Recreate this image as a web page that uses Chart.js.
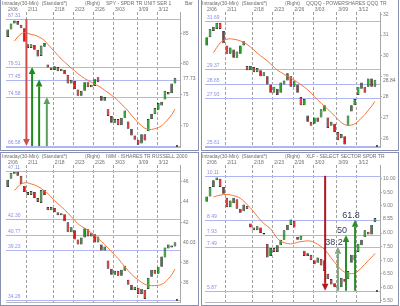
<!DOCTYPE html>
<html><head><meta charset="utf-8">
<script src="https://cdn.jsdelivr.net/npm/chart.js@4/dist/chart.umd.min.js"></script>
<style>
html,body{margin:0;padding:0;background:#fff;}
#wrap{position:relative;width:400px;height:306px;overflow:hidden;background:#fff;}
#wrap canvas{position:absolute;}
</style></head><body>
<div id="wrap">
<canvas id="c0" width="200" height="151" style="left:0;top:0"></canvas>
<canvas id="c1" width="200" height="151" style="left:200px;top:0"></canvas>
<canvas id="c2" width="200" height="154" style="left:0;top:152px"></canvas>
<canvas id="c3" width="200" height="154" style="left:200px;top:152px"></canvas>
</div>
<script>
// ---------- shared axis data ----------
const bars = Array.from({length: 52}, (_, i) => i);
const dateLabels = ['2/06','2/11','2/18','2/23','2/26','3/03','3/09','3/12'];
const dateBars = [0, 6, 14, 20, 26, 32, 39, 45];
const titleParts = ['Intraday(30-Min)', '(Standard*)', '(Right)'];

// ---------- SPY ----------
const spyTitle = 'SPY - SPDR TR UNIT SER 1';
const spyOpen  = [84.4,85.6,86.6,87.0,86.4,85.8,83.2,82.6,83.1,82.3,81.3,82.8,79.9,79.4,79.0,79.5,78.8,79.0,78.2,76.8,77.2,75.8,74.8,75.6,77.0,76.2,76.4,77.8,74.8,74.0,72.6,71.5,70.4,71.0,70.0,71.2,70.6,69.4,68.3,67.6,67.0,68.5,69.0,71.0,71.8,72.5,73.2,74.2,75.4,75.2,76.8,null];
const spyClose = [85.6,86.6,87.1,86.4,85.8,83.6,82.6,83.2,82.3,81.2,83.0,83.4,79.4,79.0,79.6,78.8,79.2,78.3,76.8,77.4,75.9,74.8,75.6,77.0,76.2,76.6,77.5,77.0,74.0,74.6,71.5,70.4,71.0,70.0,71.2,72.4,69.4,68.3,67.6,66.8,68.5,67.5,71.0,71.8,72.8,73.6,73.8,75.6,75.0,76.8,77.73,null];
const spyMA    = [null,null,83.7,84.4,84.9,85.1,85.0,84.8,84.7,84.5,84.2,83.8,83.2,82.6,82.0,81.4,80.8,80.3,79.8,79.3,78.9,78.4,78.0,77.6,77.3,77.0,76.7,76.4,76.1,75.7,75.3,74.9,74.5,74.0,73.4,72.9,72.3,71.6,71.0,70.4,69.9,69.5,69.3,69.3,69.4,69.6,69.9,70.4,71.0,71.7,72.6,null];
const spyLevels = [87.31, 79.51, 77.45, 74.58, 66.58];
const spyRange = [66.43, 88.47];
const spyTicks = [70, 75, 80, 85];
const spyArrowAt = [5.6, 7.3, 9.4, 11.7];
const spyArrowFrom = [87.31, 66.58, 66.58, 66.58];
const spyArrowTo = [66.58, 79.51, 77.45, 74.58];
const spyArrowColor = ['#d24c4c', '#1f8a1f', '#1f8a1f', '#5c9e5c'];

// ---------- QQQQ ----------
const qqqTitle = 'QQQQ - POWERSHARES QQQ TR';
const qqqOpen  = [30.5,30.9,31.2,31.3,31.6,31.2,30.5,30.1,30.3,29.9,30.1,30.5,29.5,29.3,29.45,29.2,29.3,29.0,29.0,28.6,28.2,28.4,28.2,28.6,28.8,29.0,28.5,28.6,28.0,27.6,27.1,26.8,26.7,27.0,27.0,27.3,27.0,26.6,26.7,26.3,26.0,26.1,26.6,27.3,27.6,28.1,28.4,28.5,28.5,28.9,28.5,null];
const qqqClose = [30.9,31.3,31.4,31.6,31.3,30.6,30.1,30.4,29.9,30.2,30.5,30.7,29.3,29.5,29.2,29.4,29.0,29.2,28.6,28.2,28.5,28.1,28.7,28.8,29.15,28.5,28.8,28.2,27.6,27.9,26.8,26.6,27.0,26.8,27.4,27.6,26.5,26.8,26.3,25.9,26.2,25.7,27.1,27.6,27.9,28.5,28.7,28.2,28.9,28.5,28.84,null];
const qqqMA    = [null,null,30.15,30.4,30.62,30.75,30.8,30.82,30.8,30.77,30.72,30.65,30.55,30.42,30.28,30.13,30.0,29.88,29.75,29.6,29.45,29.3,29.2,29.1,29.0,28.92,28.82,28.7,28.6,28.48,28.35,28.2,28.02,27.85,27.7,27.55,27.4,27.25,27.08,26.92,26.76,26.66,26.62,26.64,26.7,26.82,26.98,27.15,27.35,27.55,27.78,null];
const qqqLevels = [31.69, 29.37, 28.65, 27.93, 25.61];
const qqqRange = [25.575, 32.12];
const qqqTicks = [26, 27, 28, 29, 30, 31, 32];

// ---------- IWM ----------
const iwmTitle = 'IWM - ISHARES TR RUSSELL 2000';
const iwmOpen  = [45.5,46.3,46.8,47.0,46.6,45.6,45.0,44.7,45.0,44.4,43.9,45.2,43.5,43.2,43.4,43.0,42.7,42.8,42.0,41.0,41.2,40.3,39.8,40.5,41.3,40.6,40.8,40.0,39.8,39.2,38.2,37.4,36.8,37.2,36.7,37.2,36.3,35.8,35.3,35.5,34.9,35.3,35.4,36.6,37.3,36.9,37.6,38.5,39.4,39.7,39.6,null];
const iwmClose = [46.2,46.9,47.0,46.6,45.8,45.0,44.7,45.1,44.4,44.0,45.2,44.7,43.2,43.5,43.0,42.7,42.9,42.1,41.0,41.5,40.3,39.8,40.5,41.4,40.6,40.9,40.0,40.6,39.2,39.6,37.4,36.8,37.2,36.7,37.3,37.7,35.8,35.3,35.6,34.9,35.4,34.4,36.5,37.3,36.9,37.6,38.6,39.5,39.8,39.5,40.03,null];
const iwmMA    = [null,null,45.15,45.5,45.8,45.9,45.9,45.8,45.7,45.55,45.35,45.1,44.85,44.5,44.15,43.85,43.55,43.25,42.9,42.55,42.2,41.85,41.6,41.4,41.2,40.95,40.7,40.4,40.1,39.8,39.45,39.1,38.75,38.4,38.0,37.6,37.2,36.85,36.55,36.3,36.05,35.85,35.75,35.72,35.72,35.75,35.85,36.05,36.4,36.8,37.35,null];
const iwmLevels = [47.11, 42.30, 40.77, 39.23, 34.26];
const iwmRange = [34.10, 47.67];
const iwmTicks = [36, 38, 42, 44, 46];

// ---------- XLF ----------
const xlfTitle = 'XLF - SELECT SECTOR SPDR TR';
const xlfOpen  = [9.15,9.35,9.7,9.95,10.0,9.7,9.3,8.95,9.1,9.25,8.9,8.8,9.0,8.35,8.2,8.1,8.2,8.0,7.6,7.15,7.45,7.3,7.55,7.75,8.1,8.3,8.45,7.85,7.75,7.35,7.15,7.2,7.0,6.9,7.05,7.0,6.5,6.3,6.15,6.0,6.0,6.3,6.3,6.9,7.2,7.3,7.55,7.85,8.05,7.95,8.4,null];
const xlfClose = [9.35,9.7,9.95,10.05,9.7,9.45,8.95,9.2,9.3,8.9,8.75,9.05,8.88,8.2,8.1,8.25,8.0,7.95,7.1,7.45,7.3,7.55,7.75,8.1,8.3,8.5,8.2,7.75,7.9,7.15,7.25,7.0,6.85,7.1,6.8,6.6,6.3,6.1,6.0,5.9,6.35,6.2,6.6,7.2,7.0,7.6,7.75,8.1,7.95,8.3,8.55,null];
const xlfMA    = [null,null,9.33,9.37,9.4,9.42,9.42,9.41,9.38,9.34,9.28,9.18,9.05,8.93,8.78,8.62,8.47,8.35,8.25,8.15,7.98,7.8,7.7,7.65,7.61,7.6,7.62,7.66,7.68,7.7,7.71,7.7,7.65,7.58,7.5,7.4,7.25,7.08,6.92,6.78,6.64,6.56,6.52,6.5,6.52,6.6,6.72,6.85,6.98,7.1,7.25,null];
const xlfLevels = [10.11, 8.49, 7.93, 7.49, 5.87];
const xlfRange = [5.455, 10.51];
const xlfTicks = [5.5, 6, 6.5, 7, 7.5, 8, 9, 9.5, 10];
const xlfArrowAt = [35.2, 39.0, 41.4, 44.1];
const xlfArrowFrom = [10.11, 5.87, 5.87, 5.87];
const xlfArrowTo = [5.87, 7.49, 7.93, 8.49];
const xlfArrowColor = ['#b3161c', '#7fa67f', '#2a8c2a', '#2a8c2a'];
const xlfFibLabels = ['', '38.2', '50', '61.8'];

// ---------- drawing ----------
const FONT = "'Liberation Sans', Arial, sans-serif";
const GREEN = '#1d9b1d', RED = '#e01818';

function seg(ctx, x1, y1, x2, y2){ ctx.beginPath(); ctx.moveTo(x1,y1); ctx.lineTo(x2,y2); ctx.stroke(); }

function arrow(ctx, x, y1, y2, color){
  const dir = y2 > y1 ? 1 : -1, head = 7, hw = 3.3;
  ctx.strokeStyle = color; ctx.fillStyle = color; ctx.lineWidth = 2;
  seg(ctx, x, y1, x, y2 - dir*head);
  ctx.beginPath(); ctx.moveTo(x, y2); ctx.lineTo(x - hw, y2 - dir*head); ctx.lineTo(x + hw, y2 - dir*head); ctx.closePath(); ctx.fill();
}

const deco = {
  id: 'deco',
  beforeDatasetsDraw(chart, args, o){
    const {ctx, chartArea: a, scales: {x, y}} = chart;
    ctx.save();
    ctx.lineWidth = 1; ctx.strokeStyle = '#a0a0a0'; ctx.setLineDash([3, 2]);
    dateBars.forEach(b => { if (b === 0) return; const px = Math.round(x.getPixelForValue(b - 0.5)) + 0.5; seg(ctx, px, a.top, px, a.bottom); });
    ctx.setLineDash([]);
    ctx.strokeStyle = '#b0b6f2';
    o.levels.forEach(v => { const py = Math.round(y.getPixelForValue(v)) + 0.5; seg(ctx, a.left, py, a.right, py); });
    ctx.fillStyle = '#8a90dc'; ctx.font = '5px ' + FONT; ctx.textBaseline = 'alphabetic'; ctx.textAlign = 'left';
    o.levels.forEach(v => { const py = y.getPixelForValue(v); ctx.fillText(v.toFixed(2), a.left + 2, py - 2); });
    ctx.strokeStyle = '#b8b8b8';
    seg(ctx, a.left, a.bottom + 0.5, a.right, a.bottom + 0.5);
    ctx.restore();
  },
  afterDatasetsDraw(chart, args, o){
    const {ctx, chartArea: a, scales: {x, y}} = chart;
    ctx.save();
    (o.arrowAt || []).forEach((b, i) => {
      const px = x.getPixelForValue(b), y1 = y.getPixelForValue(o.arrowFrom[i]), y2 = y.getPixelForValue(o.arrowTo[i]);
      arrow(ctx, px, y1, y2, o.arrowColor[i]);
      const lab = (o.fib || [])[i];
      if (lab){ ctx.fillStyle = '#34445e'; ctx.font = '9px ' + FONT; ctx.textAlign = 'center'; ctx.textBaseline = 'alphabetic'; ctx.fillText(lab, px - 4, y2 - 2); }
    });
    ctx.fillStyle = '#5a5a2a';
    ctx.fillRect(a.right - 4, Math.round(y.getPixelForValue(o.levels[o.levels.length - 1])) - 1, 2, 2);
    ctx.restore();
  },
  afterDraw(chart, args, o){
    const {ctx, chartArea: a, scales: {x, y}, height} = chart;
    ctx.save();
    // title, laid out left to right
    ctx.fillStyle = '#6e6e6e'; ctx.font = '5px ' + FONT; ctx.textAlign = 'left'; ctx.textBaseline = 'alphabetic';
    const minX = [2, 35, 85, 106], gaps = [0, 3, 12, 6];
    let cx = 0;
    titleParts.concat([o.title]).forEach((t, i) => {
      const px = Math.max(minX[i], cx + gaps[i]);
      ctx.fillText(t, px, o.titleY);
      cx = px + ctx.measureText(t).width;
    });
    if (o.extra) ctx.fillText(o.extra, 185, o.titleY);
    dateLabels.forEach((d, i) => { const px = x.getPixelForValue(dateBars[i] - 0.5); ctx.fillText(d, px + 2, o.dateY); });
    // current value label
    const last = o.current, py = y.getPixelForValue(last);
    const txt = last.toFixed(2), w = ctx.measureText(txt).width;
    ctx.fillStyle = '#fff'; ctx.fillRect(a.right + 2, py - 3, w + 2, 6);
    ctx.fillStyle = '#6e6e6e'; ctx.textBaseline = 'middle'; ctx.fillText(txt, a.right + 3, py + 0.5);
    // panel border
    ctx.strokeStyle = '#8890b4'; ctx.lineWidth = 1;
    const L = o.bl, R = o.br;
    seg(ctx, L, 0, L, height); seg(ctx, R, 0, R, height);
    if (o.top) seg(ctx, L, 0.5, R, 0.5);
    seg(ctx, L, height - 0.5, R, height - 0.5);
    ctx.restore();
  }
};

function panel(id, p){
  const datasets = [
    { type: 'line', data: p.ma, borderColor: '#f2773a', borderWidth: 1, pointRadius: 0, tension: 0.35, order: 1 },
    { type: 'bar', data: p.open.map((v, i) => v == null ? null : [v, p.close[i]]),
      backgroundColor: p.open.map((v, i) => p.close[i] >= v ? GREEN : RED),
      borderColor: '#141414', borderWidth: 0.7, borderSkipped: false,
      barPercentage: 0.8, categoryPercentage: 1, order: 2 }
  ];
  const lastClose = p.close.filter(v => v != null).slice(-1)[0];
  return new Chart(document.getElementById(id), {
    data: { labels: bars, datasets },
    options: {
      responsive: false, animation: false, events: [],
      layout: { padding: p.pad },
      plugins: { legend: { display: false }, tooltip: { enabled: false },
        deco: { levels: p.levels, arrowAt: p.arrowAt, arrowFrom: p.arrowFrom, arrowTo: p.arrowTo, arrowColor: p.arrowColor,
                fib: p.fib, title: p.title, extra: p.extra, titleY: p.titleY, dateY: p.dateY, current: lastClose,
                bl: p.bl, br: p.br, top: p.top } },
      scales: {
        x: { display: false, offset: true },
        y: { position: 'right', min: p.range[0], max: p.range[1],
             afterFit(s){ s.width = 20; },
             afterBuildTicks(s){ s.ticks = p.ticks.map(v => ({ value: v })); },
             ticks: { font: { family: FONT, size: 5 }, color: '#7a7a7a', padding: 1,
                      callback: v => p.dec ? Number(v).toFixed(2) : String(v) },
             grid: { drawOnChartArea: false, tickLength: 2, color: '#a8a8a8' },
             border: { color: '#a8a8a8' } }
      }
    },
    plugins: [deco]
  });
}

panel('c0', { open: spyOpen, close: spyClose, ma: spyMA, levels: spyLevels, range: spyRange, ticks: spyTicks,
  arrowAt: spyArrowAt, arrowFrom: spyArrowFrom, arrowTo: spyArrowTo, arrowColor: spyArrowColor,
  title: spyTitle, extra: 'Bar', titleY: 5, dateY: 10.5, pad: { left: 6, right: 0, top: 12, bottom: 3 }, bl: 0.5, br: 198.5, top: false });
panel('c1', { open: qqqOpen, close: qqqClose, ma: qqqMA, levels: qqqLevels, range: qqqRange, ticks: qqqTicks,
  title: qqqTitle, titleY: 5, dateY: 10.5, pad: { left: 5, right: 0, top: 12, bottom: 3 }, bl: 1.5, br: 198.5, top: false });
panel('c2', { open: iwmOpen, close: iwmClose, ma: iwmMA, levels: iwmLevels, range: iwmRange, ticks: iwmTicks,
  title: iwmTitle, titleY: 6, dateY: 12, pad: { left: 6, right: 0, top: 13, bottom: 2 }, bl: 0.5, br: 198.5, top: true });
panel('c3', { open: xlfOpen, close: xlfClose, ma: xlfMA, levels: xlfLevels, range: xlfRange, ticks: xlfTicks, dec: true,
  arrowAt: xlfArrowAt, arrowFrom: xlfArrowFrom, arrowTo: xlfArrowTo, arrowColor: xlfArrowColor, fib: xlfFibLabels,
  title: xlfTitle, titleY: 6, dateY: 12, pad: { left: 5, right: 0, top: 13, bottom: 2 }, bl: 1.5, br: 198.5, top: true });
</script>
</body></html>
